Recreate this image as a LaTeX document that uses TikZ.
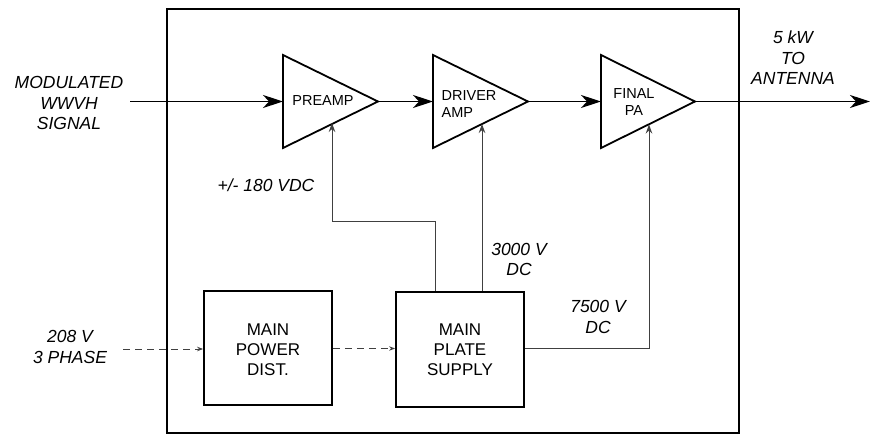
\documentclass[tikz,border=0pt]{standalone}
\usepackage{fontspec}
\setmainfont{Liberation Sans}
\usetikzlibrary{arrows.meta}
\begin{document}
\begin{tikzpicture}[x=1pt,y=-1pt,
  thick line/.style={line width=1.8pt,black},
  thin line/.style={line width=1pt,black!75},
  sig/.style={thick line,-{Stealth[length=20pt,width=13pt,inset=6pt]}},
  feed/.style={thin line,-{Stealth[length=9pt,width=6.5pt]}},
  dash line/.style={thin line,dash pattern=on 7pt off 5pt,-{Stealth[length=6pt,width=4.5pt]}},
  lbl/.style={font=\fontsize{17.5}{20.5}\selectfont\itshape,align=center,inner sep=0pt},
  boxtxt/.style={font=\fontsize{17}{20}\selectfont,align=center,inner sep=0pt},
  tritxt/.style={font=\fontsize{14.5}{17.5}\selectfont,align=left,inner sep=0pt},
  block/.style={draw,thick line,minimum width=128pt,inner sep=0pt}
]
\useasboundingbox (0,0) rectangle (872,435);
% outer cabinet
\node[draw,thick line,minimum width=572pt,minimum height=424pt,inner sep=0pt] (cab) at (453,221) {};
% triangle vertices
\coordinate (preL) at (283,101.5); \coordinate (preT) at (378,101.5);
\coordinate (drvL) at (433,101.5); \coordinate (drvT) at (528,101.5);
\coordinate (finL) at (601,101.5); \coordinate (finT) at (695,101.5);
\draw[thick line,line join=miter] (283,55) -- (preT) -- (283,148) -- cycle;
\draw[thick line,line join=miter] (433,55) -- (drvT) -- (433,148) -- cycle;
\draw[thick line,line join=miter] (601,55) -- (finT) -- (601,148) -- cycle;
\node[tritxt] (pretxt) at (323,101) {PREAMP};
\node[tritxt] (drvtxt) at (469,104) {DRIVER\\AMP};
\node[tritxt,align=center] (fintxt) at (634,102) {FINAL\\PA};
% triangle bottom-edge feed points
\coordinate (preB) at (332,123);
\coordinate (drvB) at (482,124);
\coordinate (finB) at (649,124.5);
% blocks
\node[block,minimum height=114pt] (dist) at (268,348) {};
\node[boxtxt] (disttxt) at (268,350) {MAIN\\POWER\\DIST.};
\node[block,minimum height=115pt] (plate) at (460,349.5) {};
\node[boxtxt] (platetxt) at (460,350) {MAIN\\PLATE\\SUPPLY};
% labels
\node[lbl] (inlbl) at (69,103) {MODULATED\\WWVH\\SIGNAL};
\node[lbl] (outlbl) at (793,58) {5 kW\\TO\\ANTENNA};
\node[lbl] (acl) at (70,347) {208 V\\3 PHASE};
\node[lbl] (l180) at (266,185) {+/- 180 VDC};
\node[lbl] (l3000) at (519,259.5) {3000 V\\DC};
\node[lbl] (l7500) at (598,317) {7500 V\\DC};
% signal path
\coordinate (inS) at (130,101.5);
\coordinate (outE) at (870,101.5);
\draw[sig] (inS) -- (preL);
\draw[sig] (preT) -- (drvL);
\draw[sig] (drvT) -- (finL);
\draw[sig] (finT) -- (outE);
% power feeds
\coordinate (acS) at (123,349);
\draw[dash line] (acS) -- (dist.west |- acS);
\draw[dash line] (dist.east |- 0,348.5) -- (plate.west |- 0,348.5);
\draw[feed] (plate.north -| 435,0) |- (332,222) -- (preB);
\draw[feed] (plate.north -| drvB) -- (drvB);
\draw[feed] (plate.east |- 0,348) -| (finB);
\end{tikzpicture}
\end{document}
